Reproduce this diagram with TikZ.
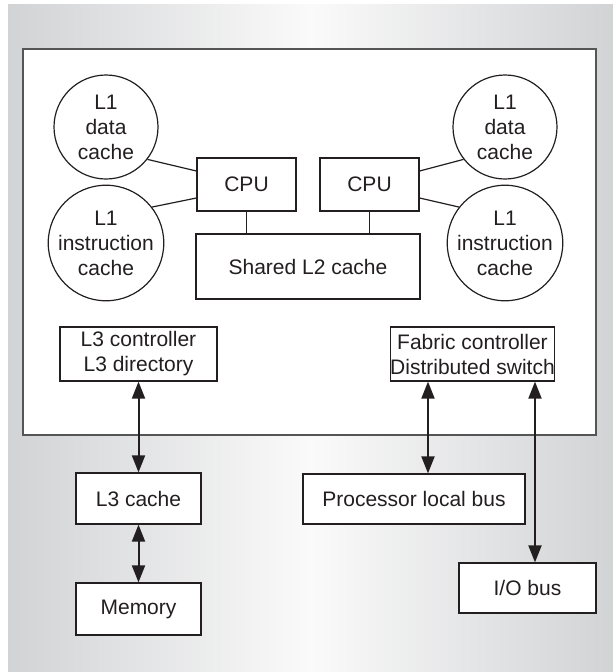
\documentclass[tikz,border=0pt]{standalone}
\usepackage{fontspec}
\setmainfont{Liberation Sans}
\usetikzlibrary{arrows.meta}
\definecolor{ink}{HTML}{231F20}
\definecolor{bgedge}{HTML}{D2D3D5}
\definecolor{bgmid}{HTML}{FAFAFA}
\definecolor{framec}{HTML}{555555}
\begin{document}
\begin{tikzpicture}[x=1pt,y=-1pt,
  >={Triangle[length=17pt,width=13pt]},
  txt/.style={font=\fontsize{21}{25}\selectfont, text=ink, align=center},
  box/.style={txt, draw=ink, line width=1.2pt, fill=white, inner sep=0pt},
  cache/.style={txt, circle, draw=ink, line width=1.2pt, fill=white, minimum size=104pt, inner sep=0pt},
  link/.style={draw=ink, line width=1.2pt},
  bi/.style={draw=ink, line width=2pt, <->}]
\useasboundingbox (0,0) rectangle (613,672);
\shade[left color=bgedge, right color=bgedge, middle color=bgmid] (8,4) rectangle (613,672);
\draw[draw=framec, line width=2pt, fill=white] (23,49) rectangle (596,435);

% caches
\node[cache] (tl) at (106,127) {L1\\data\\cache};
\node[cache] (bl) at (106,243) {L1\\instruction\\cache};
\node[cache] (tr) at (505,127) {L1\\data\\cache};
\node[cache] (br) at (505,243) {L1\\instruction\\cache};

% CPUs and L2
\node[box, minimum width=99pt, minimum height=53pt] (cpu1) at (246.5,184.5) {CPU};
\node[box, minimum width=99pt, minimum height=53pt] (cpu2) at (369.5,184.5) {CPU};
\node[box, minimum width=224pt, minimum height=65pt] (l2) at (308,266.5) {Shared L2 cache};

\draw[link] (tl.-38) -- ([yshift=13.5pt]cpu1.west);
\draw[link] (bl.38) -- ([yshift=-13.5pt]cpu1.west);
\draw[link] (tr.218) -- ([yshift=13.5pt]cpu2.east);
\draw[link] (br.142) -- ([yshift=-13.5pt]cpu2.east);
\draw[link] (cpu1.south) -- (cpu1.south |- l2.north);
\draw[link] (cpu2.south) -- (cpu2.south |- l2.north);

% controllers
\node[box, minimum width=157pt, minimum height=54pt] (l3c) at (138.5,354) {L3 controller\\L3 directory};
\node[box, minimum width=161pt, minimum height=54pt] (fab) at (472.5,354) {Fabric controller\\Distributed switch};

% outside
\node[box, minimum width=125pt, minimum height=51pt] (l3) at (138.5,498.5) {L3 cache};
\node[box, minimum width=125pt, minimum height=52pt] (mem) at (138.5,609) {Memory};
\node[box, minimum width=222pt, minimum height=50pt] (plb) at (414,499) {Processor local bus};
\node[box, minimum width=137pt, minimum height=50pt] (io) at (527.5,588) {I/O bus};

\draw[bi] (l3c.south) -- (l3.north);
\draw[bi] (l3.south) -- (mem.north);
\draw[bi] ([xshift=-44.5pt]fab.south) -- ([xshift=-44.5pt]fab.south |- plb.north);
\draw[bi] ([xshift=62.5pt]fab.south) -- ([xshift=62.5pt]fab.south |- io.north);
\end{tikzpicture}
\end{document}
